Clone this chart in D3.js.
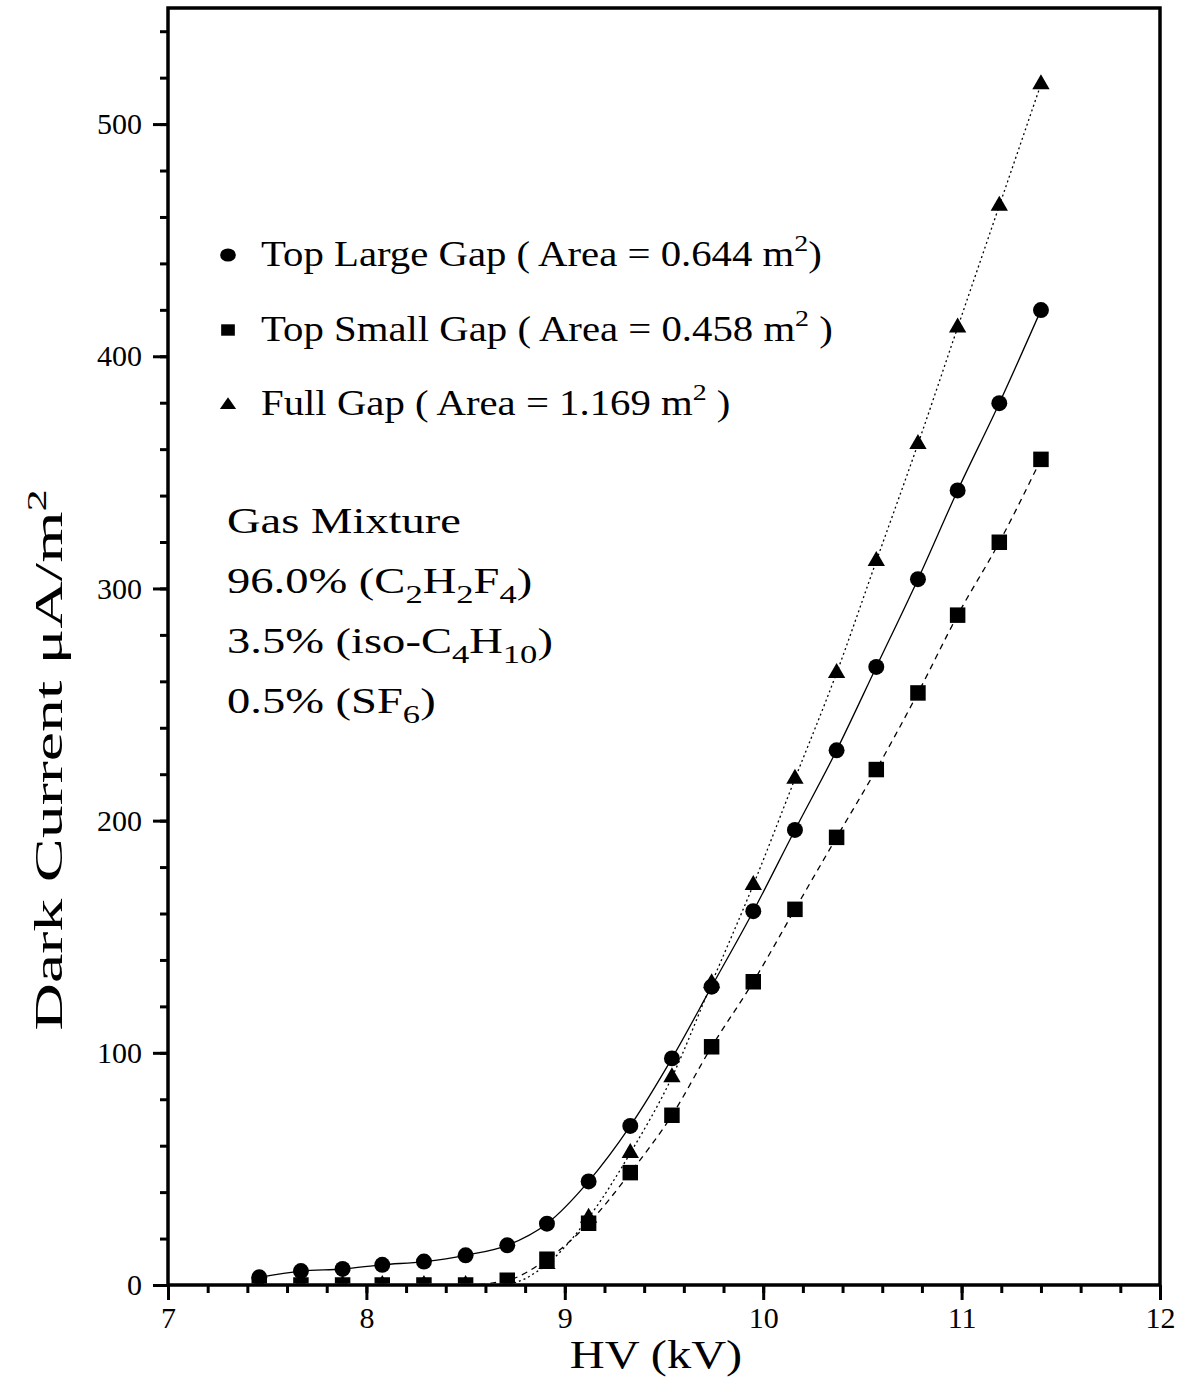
<!DOCTYPE html>
<html>
<head>
<meta charset="utf-8">
<script src="https://cdn.jsdelivr.net/npm/d3@7"></script>
<style>
  body { margin: 0; background: #fff; }
  text { font-family: "Liberation Serif", "Times New Roman", serif; fill: #000; }
</style>
</head>
<body>
<svg id="chart"></svg>
<script>
// HV values (kV) shared by all three series
const hv = [7.46, 7.67, 7.88, 8.08, 8.29, 8.50, 8.71, 8.91, 9.12, 9.33,
            9.54, 9.74, 9.95, 10.16, 10.37, 10.57, 10.78, 10.98, 11.19, 11.40];

// dark current, uA/m2
const largeGap = [3.3, 6.0, 6.9, 8.7, 10.1, 12.8, 17.1, 26.4, 44.6, 68.5,
                  97.6, 128.5, 161.0, 196.0, 230.3, 266.2, 304.0, 342.2, 379.8, 419.9];
const smallGap = [0, 0, 0, 0, 0, 0, 2.0, 11.1, 26.6, 48.4,
                  73.1, 102.6, 130.6, 161.8, 192.8, 222.0, 255.0, 288.5, 319.9, 355.6];
const fullGap  = [0, 0, 0, 0, 0, 0, 0.5, 9.0, 29.0, 56.8,
                  89.5, 130.0, 172.3, 218.0, 263.6, 311.8, 362.2, 412.4, 464.8, 517.2];

const xTicks = [7, 8, 9, 10, 11, 12];
const yTicks = [0, 100, 200, 300, 400, 500];

const legendLabels = [
  [["Top Large Gap ( Area = 0.644 m"], ["2", "sup"], [")"]],
  [["Top Small Gap ( Area = 0.458 m"], ["2", "sup"], [" )"]],
  [["Full Gap ( Area = 1.169 m"], ["2", "sup"], [" )"]]
];

const gasLines = [
  [["Gas Mixture"]],
  [["96.0% (C"], ["2", "sub"], ["H"], ["2", "sub"], ["F"], ["4", "sub"], [")"]],
  [["3.5% (iso-C"], ["4", "sub"], ["H"], ["10", "sub"], [")"]],
  [["0.5% (SF"], ["6", "sub"], [")"]]
];

const W = 1181, H = 1381;
const margin = {top: 8, right: 21, bottom: 96, left: 168};
const width = W - margin.left - margin.right;
const height = H - margin.top - margin.bottom;

const svg = d3.select('#chart').attr('width', W).attr('height', H);
const chart = svg.append('g').attr('transform', `translate(${margin.left},${margin.top})`);

const x = d3.scaleLinear().domain([7, 12]).range([0, width]);
const y = d3.scaleLinear().domain([0, 550]).range([height, 0]);

// rich text helper: parts are [text, 'sup' | 'sub' | undefined]
function richText(g, parts, size, smallSize, shift) {
  const t = g.append('text').attr('font-size', size);
  let prev = 0;
  parts.forEach(([s, kind]) => {
    const off = kind === 'sup' ? -shift : kind === 'sub' ? shift * 0.8 : 0;
    t.append('tspan')
      .attr('dy', off - prev)
      .attr('font-size', kind ? smallSize : size)
      .text(s);
    prev = off;
  });
  return t;
}

// the original type is set wider than Liberation Serif, stretch along the baseline
function stretched(parent, tx, ty, sx, rot) {
  return parent.append('g')
    .attr('transform', `translate(${tx},${ty})` + (rot ? ` rotate(${rot})` : '') + ` scale(${sx},1)`);
}

// ---- AXES ----
const tickStyle = sel => {
  sel.select('.domain').remove();
  sel.selectAll('.tick line').attr('stroke', '#000').attr('stroke-width', 3);
  sel.selectAll('.tick text').attr('font-family', '"Liberation Serif", serif').attr('font-size', 30).attr('fill', '#000');
};

chart.append('g')
  .attr('transform', `translate(0,${height})`)
  .call(d3.axisBottom(x).tickValues(d3.range(7, 12.001, 0.2)).tickSize(8).tickFormat(''))
  .call(tickStyle);

chart.append('g')
  .attr('transform', `translate(0,${height})`)
  .call(d3.axisBottom(x).tickValues(xTicks).tickSize(15).tickPadding(7).tickFormat(d3.format('d')))
  .call(tickStyle);

chart.append('g')
  .call(d3.axisLeft(y).tickValues(d3.range(0, 541, 20)).tickSize(8).tickFormat(''))
  .call(tickStyle);

chart.append('g')
  .call(d3.axisLeft(y).tickValues(yTicks).tickSize(15).tickPadding(11).tickFormat(d3.format('d')))
  .call(tickStyle);

// frame
chart.append('rect')
  .attr('width', width).attr('height', height)
  .attr('fill', 'none').attr('stroke', '#000').attr('stroke-width', 3.5);

// ---- SERIES ----
chart.append('clipPath').attr('id', 'plot-clip')
  .append('rect').attr('width', width).attr('height', height - 1.5);

const plot = chart.append('g').attr('clip-path', 'url(#plot-clip)');

const series = [
  {values: largeGap, dash: null, symbol: d3.symbolCircle, size: 200},
  {values: smallGap, dash: '6,5', symbol: d3.symbolSquare, size: 240},
  {values: fullGap, dash: '2,3', symbol: d3.symbolTriangle, size: 130}
];

const line = d3.line()
  .x(d => x(d[0]))
  .y(d => y(d[1]))
  .curve(d3.curveMonotoneX);

series.forEach(s => {
  const pts = hv.map((v, i) => [v, s.values[i]]);
  plot.append('path')
    .attr('d', line(pts))
    .attr('fill', 'none')
    .attr('stroke', '#000')
    .attr('stroke-width', 1.3)
    .attr('stroke-dasharray', s.dash);

  plot.selectAll(null)
    .data(pts)
    .join('path')
    .attr('transform', d => `translate(${x(d[0])},${y(d[1])})`)
    .attr('d', d3.symbol().type(s.symbol).size(s.size))
    .attr('fill', '#000');
});

// ---- LEGEND ----
const legendY = [266, 341, 415];
const legendSymbols = [
  {symbol: d3.symbolCircle, size: 135, dy: -11},
  {symbol: d3.symbolSquare, size: 130, dy: -11},
  {symbol: d3.symbolTriangle, size: 80, dy: -10}
];
legendLabels.forEach((parts, i) => {
  const ls = legendSymbols[i];
  svg.append('path')
    .attr('transform', `translate(228,${legendY[i] + ls.dy}) scale(1.2,1)`)
    .attr('d', d3.symbol().type(ls.symbol).size(ls.size)());
  richText(stretched(svg, 261, legendY[i], 1.165), parts, 35, 24, 15);
});

// ---- GAS MIXTURE NOTE ----
gasLines.forEach((parts, i) => {
  richText(stretched(svg, 227, 533 + i * 60, 1.33), parts, 35, 26, 12);
});

// ---- AXIS TITLES ----
stretched(svg, margin.left + width / 2 - 8, 1368, 1.21)
  .append('text')
  .attr('text-anchor', 'middle')
  .attr('font-size', 40)
  .text('HV (kV)');

richText(stretched(svg, 62, 760, 1.65, -90), [["Dark Current μA/m"], ["2", "sup"]], 40, 27, 16)
  .attr('text-anchor', 'middle');
</script>
</body>
</html>
